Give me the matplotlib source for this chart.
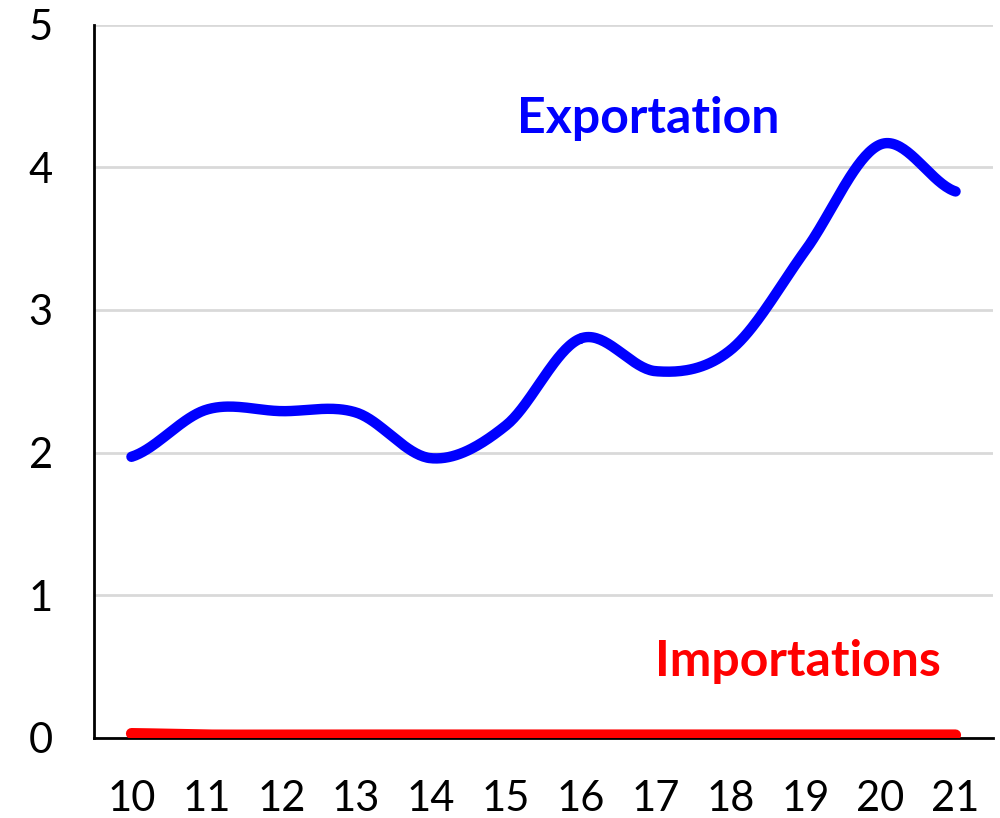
import numpy as np
import matplotlib
matplotlib.use("Agg")
import matplotlib.pyplot as plt

# data
years = [10, 11, 12, 13, 14, 15, 16, 17, 18, 19, 20, 21]
exportation = [1.97, 2.30, 2.29, 2.28, 1.96, 2.19, 2.80, 2.57, 2.72, 3.42, 4.16, 3.83]
importation = [0.03, 0.02, 0.02, 0.02, 0.02, 0.02, 0.02, 0.02, 0.02, 0.02, 0.02, 0.02]


def smooth(xs, ys, n=40):
    # catmull-rom spline through the points (like excel "smoothed line")
    xs = np.asarray(xs, float)
    ys = np.asarray(ys, float)
    px = np.concatenate([[2 * xs[0] - xs[1]], xs, [2 * xs[-1] - xs[-2]]])
    py = np.concatenate([[ys[0]], ys, [ys[-1]]])
    outx, outy = [], []
    for i in range(1, len(px) - 2):
        t = np.linspace(0, 1, n)
        for p, out in ((px, outx), (py, outy)):
            p0, p1, p2, p3 = p[i - 1], p[i], p[i + 1], p[i + 2]
            out.extend(0.5 * ((2 * p1) + (-p0 + p2) * t
                              + (2 * p0 - 5 * p1 + 4 * p2 - p3) * t ** 2
                              + (-p0 + 3 * p1 - 3 * p2 + p3) * t ** 3))
    return outx, outy


plt.rcParams['font.family'] = ['Lato', 'DejaVu Sans']

fig = plt.figure(figsize=(10, 8.18), dpi=100)
ax = fig.add_axes([0.094, 0.098, 0.899, 0.872])

ex, ey = smooth(years, exportation)
ix, iy = smooth(years, importation)
ax.plot(ex, ey, color="#0000ff", lw=7.5, solid_capstyle="round", zorder=3)
ax.plot(ix, iy, color="#ff0000", lw=8, solid_capstyle="round", zorder=3)

ax.text(15.15, 4.24, "Exportation", color="#0000ff", fontsize=36,
        fontweight="bold", va="baseline")
ax.text(16.99, 0.435, "Importations", color="#ff0000", fontsize=36,
        fontweight="bold", va="baseline")

ax.set_xlim(9.5, 21.5)
ax.set_ylim(0, 5)
ax.set_xticks(years)
ax.set_yticks([0, 1, 2, 3, 4, 5])
ax.tick_params(axis="both", length=0, labelsize=30)
ax.tick_params(axis="x", pad=30)
ax.tick_params(axis="y", pad=47)
ax.grid(axis="y", color="#d9d9d9", lw=2)
ax.set_axisbelow(True)
for s in ["top", "right"]:
    ax.spines[s].set_visible(False)
for s in ["left", "bottom"]:
    ax.spines[s].set_linewidth(2)
    ax.spines[s].set_color("black")
for lbl in ax.get_yticklabels():
    lbl.set_horizontalalignment("left")

fig.savefig("out.png", dpi=100)
